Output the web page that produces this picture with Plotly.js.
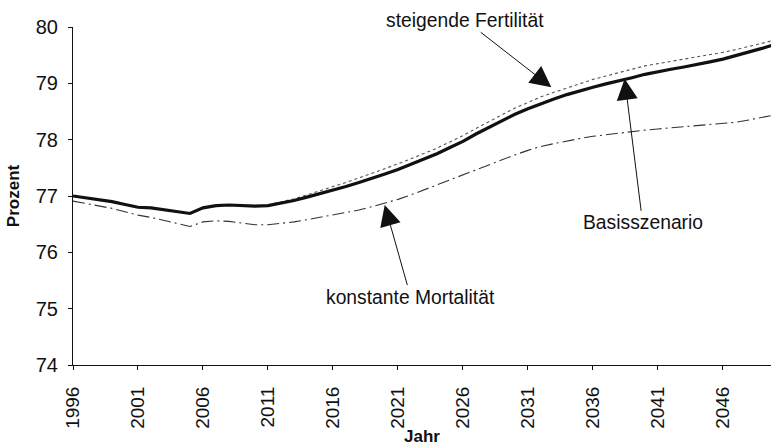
<!DOCTYPE html>
<html>
<head>
<meta charset="utf-8">
<script src="https://cdn.plot.ly/plotly-3.0.1.min.js"></script>
<style>html,body{margin:0;padding:0;background:#fff;}#chart{width:771px;height:446px;}</style>
</head>
<body>
<div id="chart"></div>
<script>
const years = [1996,1997,1998,1999,2000,2001,2002,2003,2004,2005,2006,2007,2008,2009,2010,2011,2012,2013,2014,2015,2016,2017,2018,2019,2020,2021,2022,2023,2024,2025,2026,2027,2028,2029,2030,2031,2032,2033,2034,2035,2036,2037,2038,2039,2040,2041,2042,2043,2044,2045,2046,2047,2048,2049,2050];

const basisszenario = [77.00,76.97,76.94,76.90,76.85,76.80,76.79,76.76,76.73,76.69,76.79,76.83,76.84,76.83,76.82,76.83,76.87,76.92,76.98,77.04,77.10,77.17,77.24,77.31,77.39,77.47,77.56,77.65,77.75,77.86,77.97,78.10,78.22,78.34,78.45,78.55,78.64,78.72,78.80,78.87,78.93,78.99,79.04,79.10,79.16,79.21,79.25,79.29,79.33,79.38,79.43,79.49,79.55,79.62,79.69];

const steigendeFertilitaet = [77.00,76.97,76.94,76.90,76.85,76.80,76.79,76.76,76.73,76.69,76.79,76.83,76.84,76.83,76.82,76.84,76.89,76.95,77.02,77.09,77.16,77.24,77.32,77.40,77.48,77.57,77.66,77.75,77.85,77.96,78.07,78.20,78.32,78.45,78.56,78.66,78.76,78.84,78.92,79.00,79.07,79.13,79.19,79.25,79.31,79.35,79.39,79.43,79.46,79.51,79.55,79.60,79.65,79.71,79.77];

const konstanteMortalitaet = [76.91,76.87,76.83,76.78,76.72,76.66,76.62,76.57,76.51,76.46,76.54,76.56,76.55,76.52,76.49,76.49,76.51,76.54,76.58,76.62,76.66,76.70,76.75,76.81,76.87,76.94,77.02,77.11,77.20,77.29,77.38,77.47,77.56,77.65,77.73,77.81,77.88,77.93,77.98,78.02,78.06,78.09,78.12,78.15,78.17,78.19,78.21,78.22,78.24,78.26,78.28,78.31,78.35,78.39,78.44];

const xTicks = [1996,2001,2006,2011,2016,2021,2026,2031,2036,2041,2046];
const yTicks = [74,75,76,77,78,79,80];

const FONT = 'Liberation Sans, Arial, sans-serif';

const traces = [
  {x: years, y: konstanteMortalitaet, mode: 'lines', name: 'konstante Mortalität',
   line: {color: '#333', width: 1.1, dash: '12px,4px,2px,4px'}},
  {x: years, y: steigendeFertilitaet, mode: 'lines', name: 'steigende Fertilität',
   line: {color: '#555', width: 1.1, dash: 'dot'}},
  {x: years, y: basisszenario, mode: 'lines', name: 'Basisszenario',
   line: {color: '#111', width: 3.2}}
];

const arrowStyle = {showarrow: true, arrowhead: 2, arrowsize: 4.2, arrowwidth: 1, arrowcolor: '#111',
  font: {family: FONT, size: 19.3, color: '#111'}, xref: 'x', yref: 'y'};

const layout = {
  width: 771, height: 446,
  margin: {l: 73, r: 0, t: 27, b: 81},
  paper_bgcolor: '#fff', plot_bgcolor: '#fff',
  showlegend: false,
  font: {family: FONT, color: '#111'},
  xaxis: {
    range: [1996, 2049.7], tickvals: xTicks, ticktext: xTicks.map(String),
    tickangle: -90, ticks: 'outside', ticklen: 4, tickcolor: '#111',
    showline: true, linecolor: '#111', linewidth: 1, showgrid: false, zeroline: false,
    tickfont: {family: FONT, size: 19, color: '#111'},
    ticklabelstandoff: 9,
    title: {text: 'Jahr', font: {family: FONT, size: 17, color: '#111', weight: 'bold'}},
    automargin: false
  },
  yaxis: {
    range: [74, 80], tickvals: yTicks, ticks: 'outside', ticklen: 4, tickcolor: '#111',
    showline: true, linecolor: '#111', linewidth: 1, showgrid: false, zeroline: false,
    tickfont: {family: FONT, size: 20, color: '#111'},
    ticklabelstandoff: 6,
    title: {text: 'Prozent', font: {family: FONT, size: 17, color: '#111', weight: 'bold'}, standoff: 11},
    automargin: true
  },
  annotations: [
    Object.assign({}, arrowStyle, {text: 'steigende Fertilität', x: 2032.8, y: 78.93, ax: -86, ay: -67}),
    Object.assign({}, arrowStyle, {text: 'Basisszenario', x: 2038.44, y: 79.08, ax: 18, ay: 144}),
    Object.assign({}, arrowStyle, {text: 'konstante Mortalität', x: 2019.98, y: 76.84, ax: 26, ay: 92})
  ]
};

Plotly.newPlot('chart', traces, layout, {displayModeBar: false, staticPlot: true});
</script>
</body>
</html>
